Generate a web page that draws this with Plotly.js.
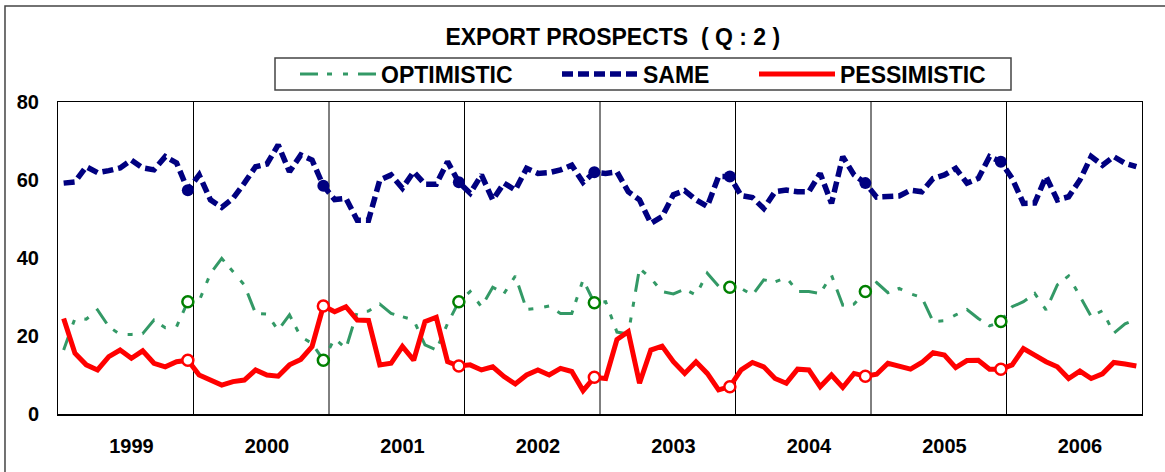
<!DOCTYPE html>
<html>
<head>
<meta charset="utf-8">
<script src="https://cdn.plot.ly/plotly-3.0.1.min.js"></script>
<style>
  html, body { margin: 0; padding: 0; background: #fff; }
  #chart { width: 1165px; height: 472px; }
</style>
</head>
<body>
<div id="chart"></div>
<script>
const years = ['1999', '2000', '2001', '2002', '2003', '2004', '2005', '2006'];

const optimistic = [
  16.4, 24.5, 24.3, 26.7, 22.4, 20.4, 20.4, 20.6, 24.1, 22.1, 22.4, 28.8,
  29.0, 36.0, 39.9, 36.5, 33.1, 25.8, 25.6, 21.5, 25.4, 19.8, 18.1, 13.8,
  19.4, 16.8, 26.2, 26.4, 28.2, 25.8, 25.0, 24.1, 17.7, 16.4, 23.2, 28.8,
  31.4, 27.5, 32.5, 30.9, 35.4, 26.8, 27.1, 27.7, 25.8, 25.8, 34.4, 28.5,
  28.8, 21.0, 20.5, 37.3, 34.8, 31.4, 30.8, 32.0, 30.5, 36.1, 32.8, 32.5,
  32.2, 30.5, 34.4, 33.9, 35.0, 31.4, 31.4, 30.9, 35.6, 27.9, 28.2, 31.4,
  33.7, 31.1, 32.2, 30.8, 29.9, 23.7, 23.9, 25.4, 26.8, 24.5, 22.6, 23.7,
  27.5, 28.8, 30.9, 26.7, 33.1, 35.4, 30.0, 25.0, 26.5, 20.7, 23.1, 24.3
];

const same = [
  59.2, 59.5, 63.4, 61.9, 62.4, 63.1, 65.1, 63.1, 62.6, 66.0, 64.4, 57.4,
  61.3, 54.9, 53.0, 55.3, 59.2, 63.4, 64.1, 69.0, 62.1, 66.4, 65.1, 58.5,
  55.0, 55.3, 49.7, 49.7, 60.0, 61.3, 57.9, 62.1, 58.9, 58.9, 64.7, 59.4,
  56.6, 61.3, 54.9, 59.2, 57.4, 63.0, 61.7, 61.9, 62.6, 63.8, 59.4, 62.0,
  61.7, 62.1, 57.0, 54.9, 48.9, 50.6, 56.2, 57.3, 54.9, 53.2, 60.9, 60.9,
  56.0, 55.5, 52.7, 57.0, 57.4, 57.0, 57.0, 61.7, 54.0, 66.0, 61.3, 59.2,
  55.6, 55.6, 55.9, 57.4, 57.0, 60.4, 61.3, 63.0, 59.2, 60.4, 66.0, 64.7,
  60.4, 54.0, 54.1, 60.9, 54.9, 55.7, 60.0, 66.0, 63.8, 66.0, 64.3, 63.4
];

const pessimistic = [
  24.5, 15.6, 12.6, 11.3, 14.7, 16.4, 14.3, 16.2, 13.0, 12.1, 13.4, 13.8,
  10.0, 8.7, 7.4, 8.3, 8.7, 11.3, 10.0, 9.7, 12.6, 14.0, 17.3, 27.7,
  26.2, 27.5, 24.1, 24.0, 12.6, 13.0, 17.3, 13.8, 23.7, 24.8, 13.4, 12.3,
  12.6, 11.3, 12.1, 9.6, 7.7, 10.0, 11.3, 10.0, 11.7, 10.9, 6.0, 9.4,
  9.1, 19.1, 21.1, 7.9, 16.4, 17.4, 13.4, 10.4, 13.4, 10.4, 6.2, 7.0,
  11.3, 13.2, 12.1, 9.1, 7.9, 11.5, 11.3, 7.0, 10.0, 6.8, 10.4, 9.7,
  10.2, 13.0, 12.1, 11.5, 13.2, 15.7, 15.1, 11.9, 13.7, 13.8, 11.5, 11.5,
  12.6, 16.8, 15.1, 13.4, 12.1, 9.1, 11.0, 9.1, 10.3, 13.2, 12.8, 12.3
];

const monthsPerYear = 12;
const xIdx = optimistic.map((_, i) => i);
// year-end (December) markers for every year except the last
const decIdx = xIdx.filter(i => i % monthsPerYear === monthsPerYear - 1 && i < xIdx.length - 1);
const pick = arr => decIdx.map(i => arr[i]);

const FONT = 'Liberation Sans, Arial, Helvetica, sans-serif';
const NAVY = '#000080', SEA = '#339966', GREEN = '#008000', RED = '#FF0000';

const traces = [
  { x: xIdx, y: optimistic, name: 'OPTIMISTIC', type: 'scatter', mode: 'lines', legend: 'legend',
    line: { color: SEA, width: 3, dash: '18px,9px,5px,11px,5px,10px' }, hoverinfo: 'skip' },
  { x: xIdx, y: same, name: 'SAME', type: 'scatter', mode: 'lines', legend: 'legend2',
    line: { color: NAVY, width: 5.5, dash: '11px,5px' }, hoverinfo: 'skip' },
  { x: xIdx, y: pessimistic, name: 'PESSIMISTIC', type: 'scatter', mode: 'lines', legend: 'legend3',
    line: { color: RED, width: 5 }, hoverinfo: 'skip' },
  { x: decIdx, y: pick(optimistic), type: 'scatter', mode: 'markers', showlegend: false,
    marker: { symbol: 'circle', size: 11, color: '#ffffff', line: { color: GREEN, width: 2.5 } }, hoverinfo: 'skip' },
  { x: decIdx, y: pick(same), type: 'scatter', mode: 'markers', showlegend: false,
    marker: { symbol: 'circle', size: 12, color: NAVY, line: { color: NAVY, width: 0 } }, hoverinfo: 'skip' },
  { x: decIdx, y: pick(pessimistic), type: 'scatter', mode: 'markers', showlegend: false,
    marker: { symbol: 'circle', size: 11, color: '#ffffff', line: { color: RED, width: 2.5 } }, hoverinfo: 'skip' }
];

const shapes = years.slice(1).map((_, k) => ({
  type: 'line', xref: 'x', yref: 'paper',
  x0: (k + 1) * monthsPerYear - 0.5, x1: (k + 1) * monthsPerYear - 0.5, y0: 0, y1: 1,
  line: { color: '#000000', width: 1 }, layer: 'below'
}));
// outer chart frame
shapes.push({
  type: 'rect', xref: 'paper', yref: 'paper',
  x0: -0.0489, x1: 1.04, y0: -0.22, y1: 1.3077,
  line: { color: '#444444', width: 1.5 }, fillcolor: 'rgba(0,0,0,0)', layer: 'below'
});
// legend frame
shapes.push({
  type: 'rect', xref: 'paper', yref: 'paper',
  x0: (275 - 58) / 1084, x1: (1011 - 58) / 1084, y0: (414 - 90) / 312, y1: (414 - 58) / 312,
  line: { color: '#444444', width: 1.5 }, fillcolor: '#ffffff', layer: 'below'
});

const legendBase = {
  orientation: 'h', xanchor: 'left', y: (414 - 74) / 312, yanchor: 'middle',
  borderwidth: 0, bgcolor: 'rgba(0,0,0,0)',
  font: { family: FONT, size: 23, weight: 'bold', color: '#000000' },
  itemwidth: 76
};

const layout = {
  width: 1165, height: 472,
  margin: { l: 58, r: 23, t: 102, b: 58 },
  paper_bgcolor: '#ffffff', plot_bgcolor: '#ffffff',
  font: { family: FONT, color: '#000000', size: 20, weight: 'bold' },
  title: {
    text: 'EXPORT PROSPECTS  ( Q : 2 )',
    font: { family: FONT, size: 23, weight: 'bold', color: '#000000' },
    x: 0.526, xref: 'container', xanchor: 'center',
    y: 0.922, yref: 'container', yanchor: 'middle'
  },
  showlegend: true,
  legend: Object.assign({}, legendBase, { x: (295 - 58) / 1084 }),
  legend2: Object.assign({}, legendBase, { x: (557 - 58) / 1084 }),
  legend3: Object.assign({}, legendBase, { x: (754 - 58) / 1084 }),
  xaxis: {
    range: [-0.5, xIdx.length - 0.5],
    tickmode: 'array',
    tickvals: years.map((_, k) => k * monthsPerYear + monthsPerYear / 2),
    ticktext: years,
    ticks: '', showgrid: false, zeroline: false,
    showline: true, linecolor: '#000000', linewidth: 1.5, mirror: true,
    ticklabelstandoff: 13,
    tickfont: { family: FONT, size: 20, weight: 'bold', color: '#000000' },
    fixedrange: true
  },
  yaxis: {
    range: [0, 80], tickmode: 'array', tickvals: [0, 20, 40, 60, 80],
    ticks: '', showgrid: false, zeroline: false,
    showline: true, linecolor: '#000000', linewidth: 1, mirror: true,
    ticklabelstandoff: 14,
    tickfont: { family: FONT, size: 20, weight: 'bold', color: '#000000' },
    fixedrange: true
  },
  shapes: shapes
};

Plotly.newPlot('chart', traces, layout, { displayModeBar: false, staticPlot: true });
</script>
</body>
</html>
